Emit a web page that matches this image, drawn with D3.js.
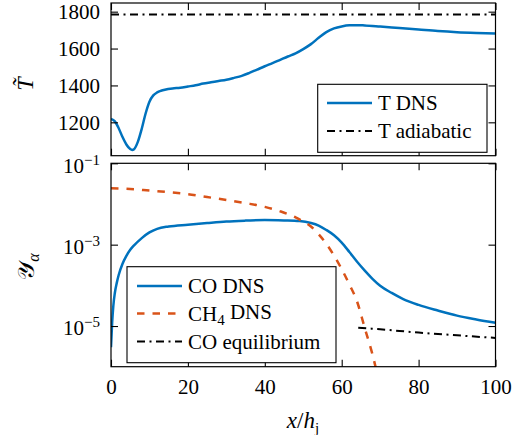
<!DOCTYPE html>
<html>
<head>
<meta charset="utf-8">
<script src="https://cdn.jsdelivr.net/npm/d3@7"></script>
<style>
  html, body { margin: 0; padding: 0; background: #fff; }
  svg { display: block; }
  svg text { font-family: "Liberation Serif", "DejaVu Serif", "Noto Serif", "Tinos", "Nimbus Roman", "Nimbus Roman No9 L", "FreeSerif", "Times New Roman", "Times", "Georgia", serif; fill: #000; }
</style>
</head>
<body>
<svg id="chart" width="519" height="435"></svg>
<script>
// Streamwise position x/h_j
const xTemp = [0, 1, 2, 3, 4, 5, 5.5, 6, 7, 8, 9, 10, 11, 12, 13, 14, 16, 18, 20, 22, 24, 26, 28, 30,
  32, 34, 36, 38, 40, 42, 44, 46, 48, 50, 52, 54, 56, 58, 60, 62, 64, 66, 70, 75, 80, 85, 90, 95, 100];
// Favre-averaged temperature from the DNS
const tempDNS = [1218, 1205, 1168, 1120, 1080, 1055, 1050, 1054, 1095, 1165, 1248, 1312, 1346, 1362, 1371, 1377,
  1384, 1387, 1394, 1401, 1410, 1417, 1424, 1431, 1441, 1452, 1468, 1486, 1504, 1521, 1539, 1557, 1574, 1597,
  1624, 1658, 1689, 1709, 1720, 1726, 1727, 1725, 1719, 1711, 1703, 1695, 1689, 1685, 1682];
// Adiabatic flame temperature
const xAdiabatic = [0, 100];
const tempAdiabatic = [1785, 1785];

// Species mass fractions
const xCO = [0, 0.3, 0.6, 1, 1.5, 2, 3, 4, 5, 6, 8, 10, 12, 15, 20, 25, 30, 35, 40, 45, 49, 52, 54, 56, 58,
  60, 62, 64, 66, 68, 70, 73, 76, 80, 85, 90, 95, 100];
const coDNS = [3.0e-6, 1.2e-5, 3.1e-5, 6.5e-5, 1.15e-4, 1.8e-4, 3.4e-4, 5.3e-4, 7.5e-4, 9.6e-4, 1.45e-3, 2.0e-3,
  2.45e-3, 2.8e-3, 3.1e-3, 3.4e-3, 3.7e-3, 3.9e-3, 4.05e-3, 3.95e-3, 3.8e-3, 3.4e-3, 2.95e-3, 2.3e-3, 1.7e-3,
  1.12e-3, 6.6e-4, 3.8e-4, 2.3e-4, 1.45e-4, 9.8e-5, 6.5e-5, 4.6e-5, 3.3e-5, 2.4e-5, 1.8e-5, 1.45e-5, 1.2e-5];
const xCH4 = [0, 5, 10, 15, 20, 25, 30, 35, 40, 44, 48, 50, 52, 54, 56, 58, 60, 62, 64, 66, 68, 70];
const ch4DNS = [2.45e-2, 2.34e-2, 2.14e-2, 1.95e-2, 1.74e-2, 1.48e-2, 1.26e-2, 1.05e-2, 8.5e-3, 6.6e-3, 4.7e-3,
  3.7e-3, 2.8e-3, 1.8e-3, 1.05e-3, 5.4e-4, 2.5e-4, 1.05e-4, 4.0e-5, 8.9e-6, 2.0e-6, 3.2e-7];
const xCOeq = [64.3, 70, 80, 90, 100];
const coEquilibrium = [9.1e-6, 8.3e-6, 6.9e-6, 5.9e-6, 5.1e-6];

// Tick values
const xTicks = [0, 20, 40, 60, 80, 100];
const tempTicks = [1200, 1400, 1600, 1800];
const yTickExponents = [-1, -3, -5];

const BLUE = "#0072BD", ORANGE = "#D95319";
const FS = 21;

const svg = d3.select("#chart");

const left = 111, right = 495.5;
const top1 = 3, bottom1 = 155.7;
const top2 = 163.3, bottom2 = 366.7;

const x = d3.scaleLinear().domain([0, 100]).range([left, right]);
const yT = d3.scaleLinear().domain([1019, 1847]).range([bottom1, top1]);
const yY = d3.scaleLog().domain([1e-6, 1e-1]).range([bottom2, top2]);

const defs = svg.append("defs");
defs.append("clipPath").attr("id", "clipTop")
  .append("rect").attr("x", left).attr("y", top1).attr("width", right - left).attr("height", bottom1 - top1);
defs.append("clipPath").attr("id", "clipBottom")
  .append("rect").attr("x", left).attr("y", top2).attr("width", right - left).attr("height", bottom2 - top2);

const TICK = 7;

function drawFrame(yScale, yTop, yBottom, yTickVals, xLabels) {
  const g = svg.append("g");
  // inward ticks on all four sides
  const axB = d3.axisBottom(x).tickValues(xTicks).tickSizeInner(-TICK).tickSizeOuter(0).tickFormat(xLabels ? d3.format("d") : "");
  const axT = d3.axisTop(x).tickValues(xTicks).tickSizeInner(-TICK).tickSizeOuter(0).tickFormat("");
  const axL = d3.axisLeft(yScale).tickValues(yTickVals).tickSizeInner(-TICK).tickSizeOuter(0).tickFormat("");
  const axR = d3.axisRight(yScale).tickValues(yTickVals).tickSizeInner(-TICK).tickSizeOuter(0).tickFormat("");
  const gb = g.append("g").attr("transform", `translate(0,${yBottom})`).call(axB);
  g.append("g").attr("transform", `translate(0,${yTop})`).call(axT);
  g.append("g").attr("transform", `translate(${left},0)`).call(axL);
  g.append("g").attr("transform", `translate(${right},0)`).call(axR);
  g.selectAll(".domain").remove();
  g.selectAll(".tick line").attr("stroke", "#000").attr("stroke-width", 1.1);
  if (xLabels) {
    gb.selectAll(".tick text").attr("font-size", FS).attr("y", 12).attr("dy", "0.71em");
  }
  g.append("rect").attr("x", left).attr("y", yTop).attr("width", right - left).attr("height", yBottom - yTop)
    .attr("fill", "none").attr("stroke", "#000").attr("stroke-width", 1.2);
  return g;
}

// ---------- Temperature panel ----------
const lineT = d3.line().x(d => x(d[0])).y(d => yT(d[1])).curve(d3.curveMonotoneX);
const gTop = svg.append("g").attr("clip-path", "url(#clipTop)");
gTop.append("path").datum(xAdiabatic.map((v, i) => [v, tempAdiabatic[i]]))
  .attr("d", lineT).attr("fill", "none").attr("stroke", "#000").attr("stroke-width", 2)
  .attr("stroke-dasharray", "8 4.5 2 4.5");
gTop.append("path").datum(xTemp.map((v, i) => [v, tempDNS[i]]))
  .attr("d", lineT).attr("fill", "none").attr("stroke", BLUE).attr("stroke-width", 2.5)
  .attr("stroke-linejoin", "round");

drawFrame(yT, top1, bottom1, tempTicks, false);

svg.append("g").selectAll("text").data(tempTicks).join("text")
  .attr("x", 100).attr("y", d => yT(d)).attr("dy", "0.35em")
  .attr("text-anchor", "end").attr("font-size", FS).text(d => d);

// ---------- Mass fraction panel ----------
const lineY = d3.line().x(d => x(d[0])).y(d => yY(d[1])).curve(d3.curveMonotoneX);
const gBot = svg.append("g").attr("clip-path", "url(#clipBottom)");
gBot.append("path").datum(xCOeq.map((v, i) => [v, coEquilibrium[i]]))
  .attr("d", lineY).attr("fill", "none").attr("stroke", "#000").attr("stroke-width", 2)
  .attr("stroke-dasharray", "8 4.5 2 4.5");
gBot.append("path").datum(xCO.map((v, i) => [v, coDNS[i]]))
  .attr("d", lineY).attr("fill", "none").attr("stroke", BLUE).attr("stroke-width", 2.5)
  .attr("stroke-linejoin", "round");
gBot.append("path").datum(xCH4.map((v, i) => [v, ch4DNS[i]]))
  .attr("d", lineY).attr("fill", "none").attr("stroke", ORANGE).attr("stroke-width", 2.5)
  .attr("stroke-dasharray", "7.5 8");

drawFrame(yY, top2, bottom2, yTickExponents.map(e => Math.pow(10, e)), true);

const yLab = svg.append("g").selectAll("text").data(yTickExponents).join("text")
  .attr("x", 100).attr("y", d => yY(Math.pow(10, d))).attr("dy", "0.45em")
  .attr("text-anchor", "end").attr("font-size", FS);
yLab.append("tspan").text("10");
yLab.append("tspan").attr("dy", "-0.55em").attr("font-size", 15).text(d => "\u2212" + Math.abs(d));

// ---------- Axis labels ----------
svg.append("text").attr("transform", "translate(33,84) rotate(-90)")
  .attr("text-anchor", "middle").attr("font-size", 24).attr("font-style", "italic").text("T\u0303");

const yl = svg.append("text").attr("transform", "translate(34,267) rotate(-90)")
  .attr("text-anchor", "middle").attr("font-size", 24);
yl.append("tspan").text("\uD835\uDCB4");
yl.append("tspan").attr("font-size", 16).attr("dy", "0.3em").attr("font-style", "italic").text("\u03B1");

const xl = svg.append("text").attr("x", 303).attr("y", 428).attr("text-anchor", "middle").attr("font-size", 23);
xl.append("tspan").attr("font-style", "italic").text("x");
xl.append("tspan").text("/");
xl.append("tspan").attr("font-style", "italic").text("h");
xl.append("tspan").attr("font-size", 15).attr("dy", "0.3em").text("j");

// ---------- Legends ----------
function legend(x0, y0, w, h, items, lineX0) {
  const g = svg.append("g");
  g.append("rect").attr("x", x0).attr("y", y0).attr("width", w).attr("height", h)
    .attr("fill", "#fff").attr("stroke", "#000").attr("stroke-width", 1.1);
  items.forEach(it => {
    g.append("line").attr("x1", lineX0).attr("x2", lineX0 + 45).attr("y1", it.y).attr("y2", it.y)
      .attr("stroke", it.color).attr("stroke-width", it.width)
      .attr("stroke-dasharray", it.dash || null);
    const t = g.append("text").attr("x", lineX0 + 51).attr("y", it.y).attr("dy", "0.35em").attr("font-size", FS);
    it.label.forEach(p => {
      const s = t.append("tspan").text(p.t);
      if (p.sub) s.attr("font-size", 15).attr("dy", "0.3em");
      if (p.after) s.attr("dy", "-0.3em");
    });
  });
}

legend(317.7, 84.3, 169.3, 68, [
  { y: 103, color: BLUE, width: 2.5, label: [{ t: "T DNS" }] },
  { y: 131, color: "#000", width: 2, dash: "8 4.5 2 4.5", label: [{ t: "T adiabatic" }] }
], 327);

legend(127, 266.7, 209, 96, [
  { y: 286, color: BLUE, width: 2.5, label: [{ t: "CO DNS" }] },
  { y: 313.5, color: ORANGE, width: 2.5, dash: "7.5 8", label: [{ t: "CH" }, { t: "4", sub: true }, { t: " DNS", after: true }] },
  { y: 341.5, color: "#000", width: 2, dash: "8 4.5 2 4.5", label: [{ t: "CO equilibrium" }] }
], 137);
</script>
</body>
</html>
